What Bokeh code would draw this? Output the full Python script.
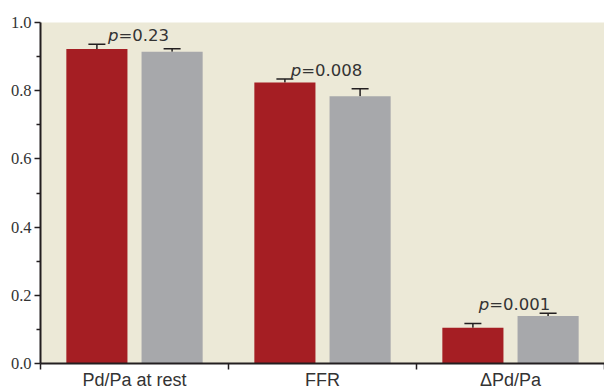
from bokeh.plotting import figure
from bokeh.models import FixedTicker, NumeralTickFormatter, Whisker, TeeHead, ColumnDataSource, Range1d
from bokeh.core.properties import value
from bokeh.embed import file_html
from bokeh.resources import INLINE

# ---- data ----
categories = ["Pd/Pa at rest", "FFR", "\u0394Pd/Pa"]
group_a = [0.922, 0.824, 0.105]       # red bars
group_a_err = [0.014, 0.010, 0.012]
group_b = [0.914, 0.784, 0.139]       # gray bars
group_b_err = [0.009, 0.022, 0.008]
p_values = ["0.23", "0.008", "0.001"]
y_ticks = [0.0, 0.2, 0.4, 0.6, 0.8, 1.0]
y_minor_ticks = [0.1, 0.3, 0.5, 0.7, 0.9]

RED = "#A51E23"
GRAY = "#A7A8AB"
BG = "#ECE9D7"
INK = "#231F20"
TXT = "#333333"

n = len(categories)
centers = [i + 0.5 for i in range(n)]
xa = [c - 0.2 for c in centers]
xb = [c + 0.2 for c in centers]

p = figure(width=604, height=392, output_backend="svg", toolbar_location=None,
           x_range=Range1d(0, n), y_range=Range1d(0, 1.0),
           min_border_left=40, min_border_top=22, min_border_right=0, min_border_bottom=0)
p.background_fill_color = BG
p.border_fill_color = "white"
p.outline_line_color = None
p.grid.visible = False

p.vbar(x=xa, top=group_a, width=0.325, bottom=0, fill_color=RED, line_color=None)
p.vbar(x=xb, top=group_b, width=0.325, bottom=0, fill_color=GRAY, line_color=None)

for xs, tops, errs in ((xa, group_a, group_a_err), (xb, group_b, group_b_err)):
    src = ColumnDataSource(dict(x=xs, lower=tops, upper=[t + e for t, e in zip(tops, errs)]))
    w = Whisker(base="x", lower="lower", upper="upper", source=src, dimension="height",
                line_color=INK, line_width=1.5,
                upper_head=TeeHead(size=17, line_color=INK, line_width=1.5), lower_head=None)
    p.add_layout(w)

# p-value labels: italic "p" + upright "=value", centred over each group
label_y = [max(a + ea, b + eb) + 0.025 for a, ea, b, eb in zip(group_a, group_a_err, group_b, group_b_err)]
offsets = [(11 - 10.6 * (len(v) + 1)) / 2 + 5 for v in p_values]
p.text(x=centers, y=label_y, text=["p"] * n, x_offset=offsets,
       text_align="right", text_baseline="alphabetic",
       text_font=value("DejaVu Sans"), text_font_style="italic",
       text_font_size="16.5px", text_color=TXT)
p.text(x=centers, y=label_y, text=["=" + v for v in p_values], x_offset=offsets,
       text_align="left", text_baseline="alphabetic",
       text_font=value("DejaVu Sans"), text_font_size="16.5px", text_color=TXT)

# y axis
ya = p.yaxis[0]
ya.ticker = FixedTicker(ticks=y_ticks, minor_ticks=y_minor_ticks)
ya.formatter = NumeralTickFormatter(format="0.0")
ya.major_tick_in = 0
ya.major_tick_out = 6
ya.minor_tick_in = 0
ya.minor_tick_out = 4
ya.axis_line_color = INK
ya.axis_line_width = 2
ya.major_tick_line_color = INK
ya.major_tick_line_width = 1.5
ya.minor_tick_line_color = INK
ya.minor_tick_line_width = 1.5
ya.major_label_text_font = "Liberation Serif"
ya.major_label_text_font_size = "16.5px"
ya.major_label_text_color = TXT
ya.major_label_standoff = 3

# x axis: boundary ticks between groups, labels at group centres
xaxis = p.xaxis[0]
xaxis.ticker = FixedTicker(ticks=centers, minor_ticks=list(range(n + 1)))
xaxis.major_label_overrides = {c: lab for c, lab in zip(centers, categories)}
xaxis.major_tick_in = 0
xaxis.major_tick_out = 0
xaxis.minor_tick_in = 0
xaxis.minor_tick_out = 6
xaxis.axis_line_color = INK
xaxis.axis_line_width = 2
xaxis.minor_tick_line_color = INK
xaxis.minor_tick_line_width = 1.5
xaxis.major_label_text_font = "Liberation Sans"
xaxis.major_label_text_font_size = "18px"
xaxis.major_label_text_color = TXT
xaxis.major_label_standoff = 0

open("out.html", "w").write(file_html(p, INLINE))
